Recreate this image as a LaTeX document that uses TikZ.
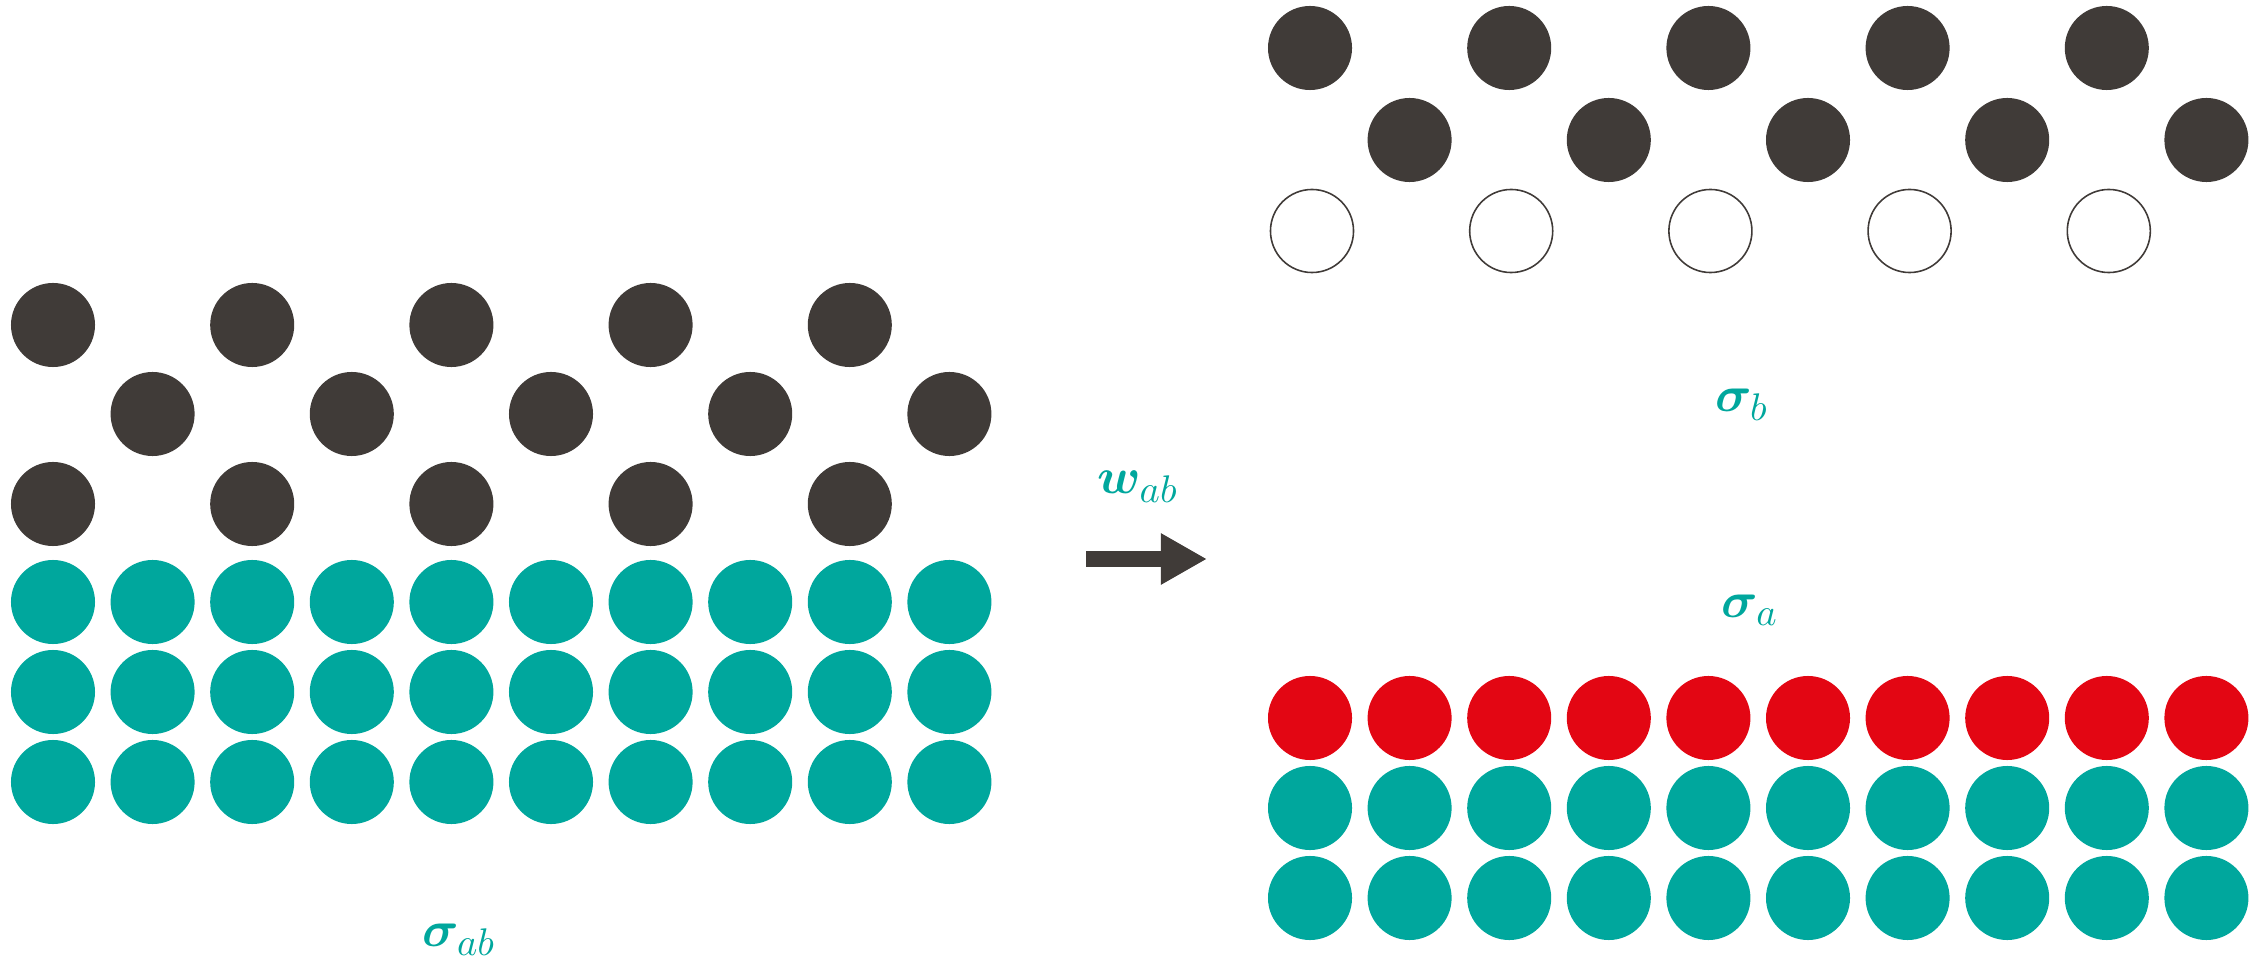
\documentclass[tikz,border=0pt]{standalone}
\usepackage{amsmath,amsfonts,amssymb,bm}
\usepackage{tikz}
\definecolor{atomdark}{HTML}{403B38}
\definecolor{atomteal}{HTML}{00A79D}
\definecolor{atomred}{HTML}{E30613}
\tikzset{dark node/.style={circle,fill=atomdark,minimum size=0.84cm,inner sep=0pt},
	teal node/.style={circle,fill=atomteal,minimum size=0.84cm,inner sep=0pt},
	red node/.style={circle,fill=atomred,minimum size=0.84cm,inner sep=0pt},
	open node/.style={circle,draw=atomdark,line width=0.45pt,minimum size=0.83cm,inner sep=0pt},
	sym node/.style={text=atomteal,inner sep=0pt,font=\fontsize{15}{18}\selectfont},
}
\usetikzlibrary{positioning,arrows.meta}

\begin{document}
\begin{tikzpicture}[x=0.01cm,y=-0.01cm]
			\useasboundingbox (0,0) rectangle (2263,964);

			%% joined slab
			\foreach \i in {0,2,...,8} {
				\node[dark node] (u1\i) at ({53+99.6*\i},325) {};
				\node[dark node] (u3\i) at ({53+99.6*\i},504) {};
			}
			\foreach \i in {1,3,...,9}
				\node[dark node] (u2\i) at ({53+99.6*\i},414) {};
			\foreach \i in {0,...,9} {
				\node[teal node] (v1\i) at ({53+99.6*\i},602) {};
				\node[teal node] (v2\i) at ({53+99.6*\i},692) {};
				\node[teal node] (v3\i) at ({53+99.6*\i},782) {};
			}
			\node[sym node] (sab) at (459,940) {$\boldsymbol{\sigma}_{ab}$};

			%% separation
			\node[sym node] (wab) at (1138,487) {$\boldsymbol{w}_{ab}$};
			\coordinate (go) at (1086,559);
			\coordinate (stop) at (1207,559);
			\draw[atomdark,line width=0.16cm,-{Triangle[length=0.46cm,width=0.48cm]}] (go) -- (stop);

			%% upper part b
			\begin{scope}
			\foreach \i in {0,2,...,8} {
				\node[dark node] (b1\i) at ({1310+99.6*\i},48) {};
				\node[open node] (b3\i) at ({1312+99.6*\i},231) {};
			}
			\foreach \i in {1,3,...,9}
				\node[dark node] (b2\i) at ({1310+99.6*\i},140) {};
			\node[sym node] (sb) at (1742,405) {$\boldsymbol{\sigma}_{b}$};
			\end{scope}

			%% lower part a
			\begin{scope}
			\foreach \i in {0,...,9} {
				\node[red node] (a1\i) at ({1310+99.6*\i},718) {};
				\node[teal node] (a2\i) at ({1310+99.6*\i},808) {};
				\node[teal node] (a3\i) at ({1310+99.6*\i},898) {};
			}
			\node[sym node] (sa) at (1750,610) {$\boldsymbol{\sigma}_{a}$};
			\end{scope}
\end{tikzpicture}
\end{document}
